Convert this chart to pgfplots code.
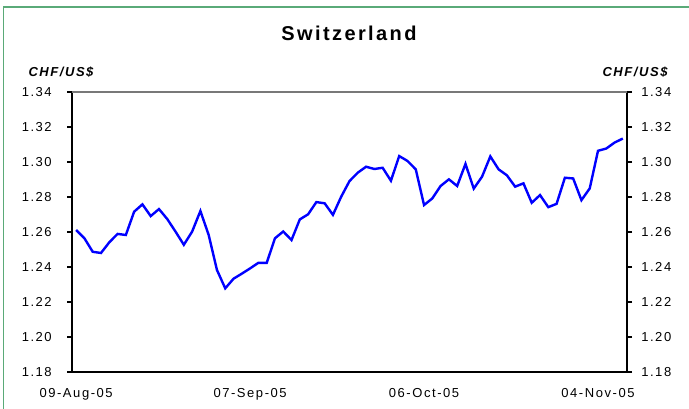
\documentclass[border=0pt]{standalone}
\usepackage{pgfplots}
\pgfplotsset{compat=1.18}
\usepackage{fontspec}
\setmainfont{Liberation Sans}
\newfontfamily\lsfont[LetterSpace=12]{Liberation Sans}
\definecolor{framegreen}{RGB}{90,170,120}
\definecolor{lineblue}{RGB}{0,0,255}
\definecolor{topgray}{RGB}{120,120,120}
\pgfplotstableread{
x y
0 1.2611
1 1.2564
2 1.2487
3 1.2480
4 1.2541
5 1.2589
6 1.2583
7 1.2716
8 1.2758
9 1.2691
10 1.2731
11 1.2674
12 1.2602
13 1.2527
14 1.2602
15 1.2720
16 1.2583
17 1.2383
18 1.2278
19 1.2333
20 1.2362
21 1.2392
22 1.2424
23 1.2423
24 1.2564
25 1.2603
26 1.2554
27 1.2672
28 1.2701
29 1.2771
30 1.2764
31 1.2698
32 1.2802
33 1.2891
34 1.2939
35 1.2973
36 1.2960
37 1.2967
38 1.2893
39 1.3034
40 1.3006
41 1.2958
42 1.2754
43 1.2792
44 1.2863
45 1.2901
46 1.2863
47 1.2989
48 1.2848
49 1.2916
50 1.3032
51 1.2958
52 1.2924
53 1.2859
54 1.2878
55 1.2767
56 1.2811
57 1.2742
58 1.2761
59 1.2910
60 1.2906
61 1.2782
62 1.2849
63 1.3064
64 1.3077
65 1.3111
66 1.3134
}\chfdata
\begin{document}
\begin{tikzpicture}
\useasboundingbox (0,0) rectangle (516.75pt,306pt);
\fill[white] (0,0) rectangle (516.75pt,306pt);
\draw[framegreen, line width=1.1pt] (2.6pt,-5pt) -- (2.6pt,300.75pt) -- (530pt,300.75pt);
\pgfplotsset{
  common/.style={
    at={(54pt,27pt)}, anchor=south west, scale only axis,
    width=416.25pt, height=210pt,
    xmin=-0.5, xmax=66.5, ymin=1.18, ymax=1.34,
    ytick={1.18,1.20,1.22,1.24,1.26,1.28,1.30,1.32,1.34},
    tick align=outside, major tick length=3.75pt,
    /pgf/number format/assume math mode=true,
    yticklabel style={/pgf/number format/fixed, /pgf/number format/fixed zerofill, /pgf/number format/precision=2},
    ticklabel style={font=\lsfont\fontsize{9.75}{11}\selectfont, inner sep=0pt},
    axis line style={black, line width=0.9pt},
    y tick style={black, line width=0.9pt},
  }
}
\begin{axis}[common, clip=false,
  axis x line*=bottom, axis y line*=left,
  xtick={0,21,42,63},
  xticklabels={09-Aug-05,07-Sep-05,06-Oct-05,04-Nov-05},
  x tick style={draw=none},
  xticklabel style={anchor=north, yshift=-8pt},
  yticklabel style={anchor=east, xshift=-11.25pt},
]
\addplot[lineblue, line width=1.8pt, mark=none] table[x=x,y=y] {\chfdata};
\end{axis}
\begin{axis}[common,
  axis x line=none, axis y line*=right,
  yticklabel style={anchor=west, xshift=6.75pt},
]
\end{axis}
\draw[topgray, line width=1pt] (54pt,237pt) -- (470.25pt,237pt);
\node[font=\lsfont\bfseries\fontsize{15}{18}\selectfont] at (261.75pt,281.25pt) {Switzerland};
\node[font=\lsfont\bfseries\itshape\fontsize{9.75}{11}\selectfont] at (45.75pt,252pt) {CHF/US\$};
\node[font=\lsfont\bfseries\itshape\fontsize{9.75}{11}\selectfont] at (476.25pt,252pt) {CHF/US\$};
\end{tikzpicture}
\end{document}
